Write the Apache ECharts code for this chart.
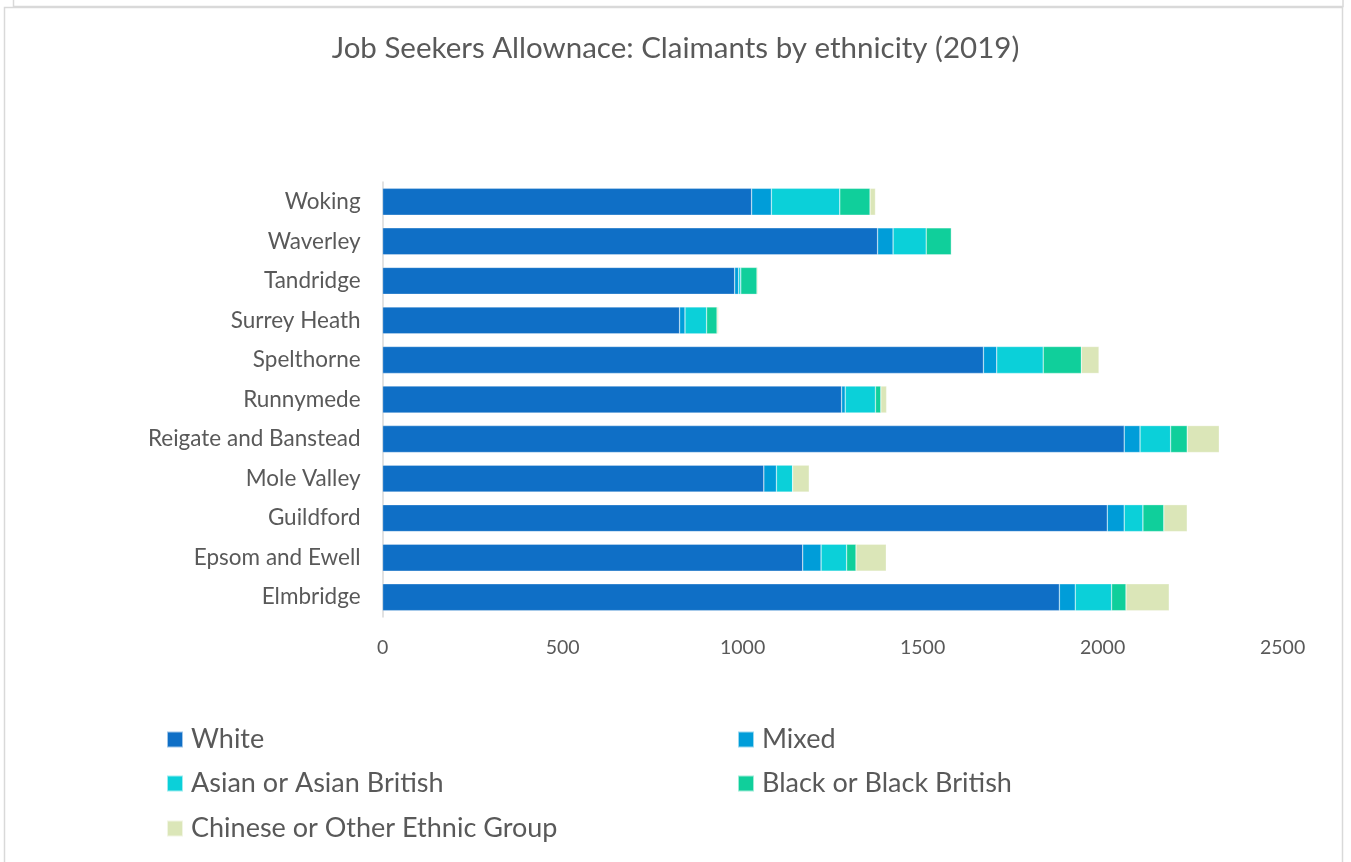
<!DOCTYPE html>
<html><head><meta charset="utf-8">
<script src="https://cdn.jsdelivr.net/npm/echarts@6/dist/echarts.min.js"></script>
<style>html,body{margin:0;padding:0;background:#fff}#c{width:1351px;height:862px}</style>
</head><body><div id="c"></div>
<script>
var categories = ['Elmbridge','Epsom and Ewell','Guildford','Mole Valley','Reigate and Banstead','Runnymede','Spelthorne','Surrey Heath','Tandridge','Waverley','Woking'];
var white   = [1880, 1167, 2013, 1059, 2060, 1275, 1669, 825, 978, 1375, 1025];
var mixed   = [44, 51, 47, 35, 44, 10, 37, 15, 11, 43, 55];
var asian   = [101, 71, 52, 45, 85, 84, 129, 60, 6, 92, 190];
var black   = [40, 26, 58, 0, 46, 15, 106, 29, 45, 70, 84];
var chinese = [120, 84, 65, 46, 89, 16, 49, 4, 3, 0, 15];
var seriesNames = ['White','Mixed','Asian or Asian British','Black or Black British','Chinese or Other Ethnic Group'];
var seriesColors = ['#0F6FC6','#009DD9','#0BD0D9','#10CF9B','#DBE6B8'];
var xTicks = [0, 500, 1000, 1500, 2000, 2500];

var font = 'Lato';
var txt = '#595959';
var data = [white, mixed, asian, black, chinese];
var series = data.map(function(d, i){
  return {name: seriesNames[i], type:'bar', stack:'total', data:d, barWidth:'68%',
    itemStyle:{color:seriesColors[i], borderColor:'rgba(255,255,255,0.6)', borderWidth:0.5}};
});
var legendPos = [[161,721],[732,721],[161,765],[732,765],[161,810]];
var legends = seriesNames.map(function(n,i){
  return {data:[n], left:legendPos[i][0], top:legendPos[i][1], orient:'horizontal',
    icon:'rect', itemWidth:16, itemHeight:16, itemGap:10,
    textStyle:{fontFamily:font, fontSize:27, color:txt, padding:[0,0,0,3]}};
});
var chart = echarts.init(document.getElementById('c'));
chart.setOption({
  animation:false,
  backgroundColor:'#fff',
  title:{text:'Job Seekers Allownace: Claimants by ethnicity (2019)', left:'center', top:28,
    textStyle:{fontFamily:font, fontSize:29.5, fontWeight:'normal', color:txt}},
  legend: legends,
  grid:{left:382.6, right:68.4, top:182, height:435, containLabel:false},
  xAxis:{type:'value', min:0, max:2500, interval:500,
    axisLine:{show:false}, axisTick:{show:false}, splitLine:{show:false},
    axisLabel:{fontFamily:font, fontSize:19.5, color:txt, margin:21,
      formatter:function(v){ return xTicks.indexOf(v)>=0 ? String(v) : ''; }}},
  yAxis:{type:'category', data:categories,
    axisLine:{show:true, lineStyle:{color:'#d9d9d9', width:1.5}}, axisTick:{show:false},
    axisLabel:{fontFamily:font, fontSize:22.5, color:txt, margin:22}},
  series: series,
  graphic:[
    {type:'polyline', shape:{points:[[13.5,0],[13.5,6.5],[1343,6.5],[1343,0]]}, style:{stroke:'#d9d9d9', lineWidth:1.5, fill:null}, silent:true},
    {type:'polyline', shape:{points:[[4.5,862],[4.5,7.5],[1342.5,7.5],[1342.5,862]]}, style:{stroke:'#d9d9d9', lineWidth:1.5, fill:null}, silent:true}
  ]
});
</script></body></html>
